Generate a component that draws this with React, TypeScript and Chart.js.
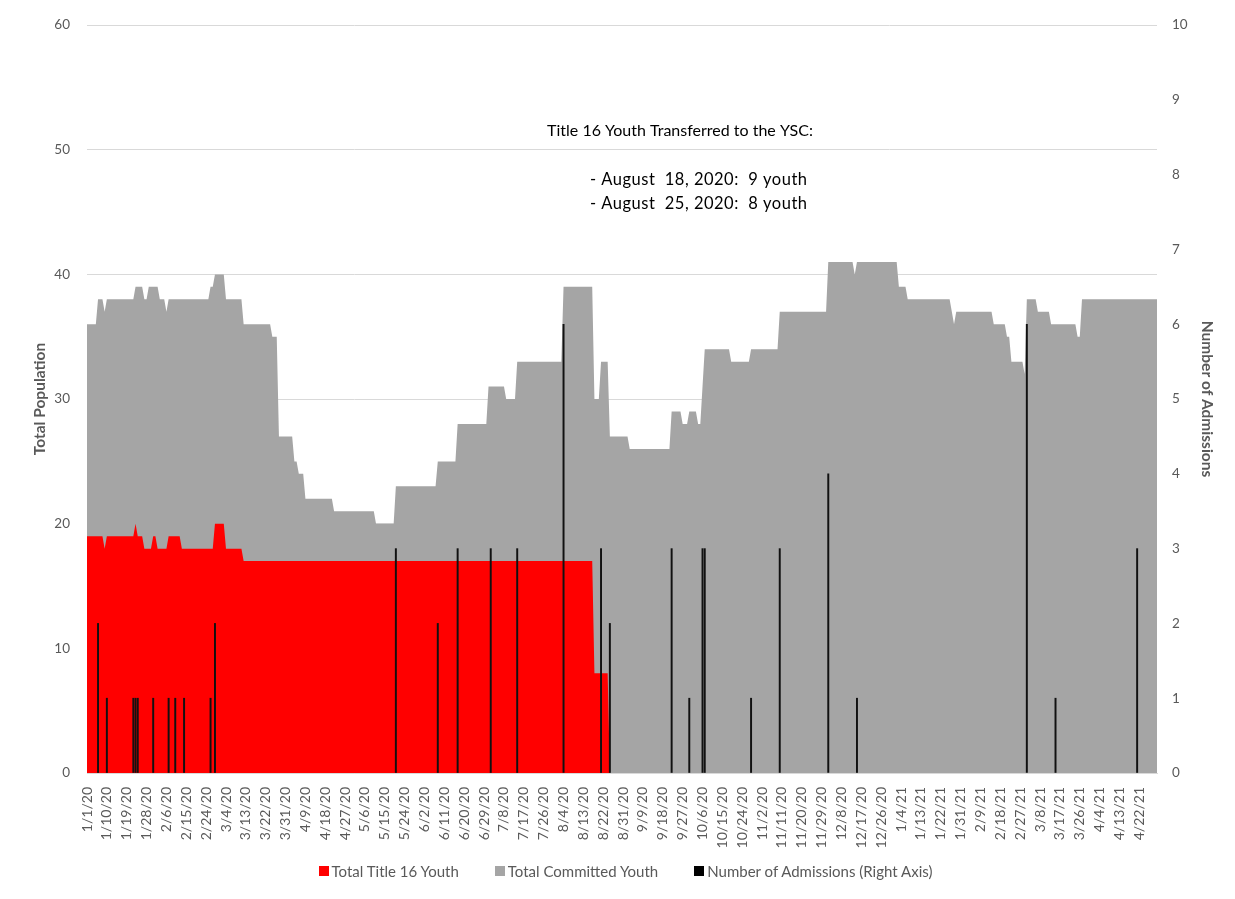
import React, { useEffect, useRef } from 'react';
import { Chart, registerables } from 'chart.js';

Chart.register(...registerables);

// ---- Data ----
const DAY_COUNT = 486; // 1/1/20 .. 4/30/21, one category per day
const LABEL_EVERY = 9;

// Daily step values as [value, number of days]
const title16Runs: [number, number][] = [
  [19, 8], [18, 1], [19, 13], [20, 1], [19, 3], [18, 4], [19, 2], [18, 5], [19, 6],
  [18, 15], [20, 5], [18, 8], [17, 159], [8, 7], [0, 249],
];

const committedRuns: [number, number][] = [
  [36, 5], [38, 3], [37, 1], [38, 13], [39, 4], [38, 2], [39, 5], [38, 3], [37, 1],
  [38, 19], [39, 2], [40, 5], [38, 8], [36, 13], [35, 3], [27, 7], [25, 2], [24, 3],
  [22, 13], [21, 19], [20, 9], [23, 19], [25, 9], [28, 14], [31, 8], [30, 5], [33, 21],
  [39, 14], [30, 3], [33, 4], [27, 9], [26, 19], [29, 5], [28, 3], [29, 4], [28, 2],
  [31, 1], [34, 12], [33, 9], [34, 13], [37, 22], [41, 12], [40, 1], [41, 19], [39, 4],
  [38, 20], [37, 1], [36, 1], [37, 17], [36, 6], [35, 2], [33, 6], [32, 1], [38, 5],
  [37, 6], [36, 12], [35, 2], [38, 35],
];

const admissionDates = [
  '1/6/20', '1/10/20', '1/22/20', '1/23/20', '1/24/20', '1/31/20', '2/7/20', '2/10/20',
  '2/14/20', '2/26/20', '2/28/20', '5/20/20', '6/8/20', '6/17/20', '7/2/20', '7/14/20',
  '8/4/20', '8/21/20', '8/25/20', '9/22/20', '9/30/20', '10/6/20', '10/7/20', '10/28/20',
  '11/10/20', '12/2/20', '12/15/20', '3/2/21', '3/15/21', '4/21/21',
];
const admissionCounts = [
  2, 1, 1, 1, 1, 1, 1, 1,
  1, 1, 2, 3, 2, 3, 3, 3,
  6, 3, 2, 3, 1, 3, 3, 1,
  3, 4, 1, 6, 1, 3,
];

const seriesNames = ['Total Title 16 Youth', 'Total Committed Youth', 'Number of Admissions (Right Axis)'];
const seriesColors = ['#ff0000', '#a5a5a5', '#000000'];
const noteLines = ['Title 16 Youth Transferred to the YSC:', '- August  18, 2020:  9 youth', '- August  25, 2020:  8 youth'];

const FONT = 'Lato, "Open Sans", sans-serif';
const TEXT_COLOR = '#595959';

function makeLabels(): string[] {
  const out: string[] = [];
  for (let i = 0; i < DAY_COUNT; i++) {
    const d = new Date(Date.UTC(2020, 0, 1 + i));
    out.push(`${d.getUTCMonth() + 1}/${d.getUTCDate()}/${String(d.getUTCFullYear()).slice(2)}`);
  }
  return out;
}

function expandRuns(runs: [number, number][]): number[] {
  const out: number[] = [];
  runs.forEach(([v, n]) => {
    for (let k = 0; k < n; k++) out.push(v);
  });
  return out;
}

const notePlugin = {
  id: 'notePlugin',
  afterDatasetsDraw(chart: any) {
    const ctx = chart.ctx;
    ctx.save();
    ctx.fillStyle = '#000000';
    ctx.font = `16px ${FONT}`;
    ctx.textBaseline = 'middle';
    ctx.textAlign = 'center';
    ctx.fillText(noteLines[0], 680, 131);
    ctx.font = `16.5px ${FONT}`;
    ctx.textAlign = 'left';
    (ctx as any).letterSpacing = '0.5px';
    ctx.fillText(noteLines[1], 590, 180);
    ctx.fillText(noteLines[2], 590, 204);
    ctx.restore();
  },
};

export default function App() {
  const canvasRef = useRef<HTMLCanvasElement | null>(null);

  useEffect(() => {
    const labels = makeLabels();
    const title16 = expandRuns(title16Runs);
    const committed = expandRuns(committedRuns);
    const admissions: (number | null)[] = labels.map(() => null);
    admissionDates.forEach((ds, i) => {
      const idx = labels.indexOf(ds);
      if (idx >= 0) admissions[idx] = admissionCounts[i];
    });

    const xTickFont = { family: FONT, size: 14 };
    const yTickFont = { family: FONT, size: 13.5 };
    const titleFont = { family: FONT, size: 15.5, weight: 'bold' };
    const chart = new Chart(canvasRef.current as HTMLCanvasElement, {
      type: 'line',
      data: {
        labels,
        datasets: [
          {
            type: 'line',
            label: seriesNames[0],
            data: title16,
            backgroundColor: seriesColors[0],
            borderColor: 'rgba(0,0,0,0)',
            borderWidth: 0,
            pointRadius: 0,
            fill: 'origin',
            tension: 0,
            yAxisID: 'y',
            order: 1,
          },
          {
            type: 'line',
            label: seriesNames[1],
            data: committed,
            backgroundColor: seriesColors[1],
            borderColor: 'rgba(0,0,0,0)',
            borderWidth: 0,
            pointRadius: 0,
            fill: 'origin',
            tension: 0,
            yAxisID: 'y',
            order: 2,
          },
          {
            type: 'bar',
            label: seriesNames[2],
            data: admissions,
            backgroundColor: '#111111',
            barThickness: 1.3,
            yAxisID: 'y1',
            order: 0,
          },
        ] as any,
      },
      options: {
        animation: false,
        responsive: false,
        events: [],
        layout: { padding: { left: 27, right: 15, top: 23, bottom: 46 } },
        plugins: {
          legend: { display: false },
          tooltip: { enabled: false },
        },
        scales: {
          x: {
            type: 'category',
            offset: false,
            grid: { display: false, offset: false },
            border: { display: true, color: '#d9d9d9' },
            ticks: {
              autoSkip: false,
              maxRotation: 90,
              minRotation: 90,
              padding: 6,
              color: TEXT_COLOR,
              font: xTickFont,
              callback: (_v: any, i: number) => (i % LABEL_EVERY === 0 ? labels[i] : ''),
            },
            afterFit: (s: any) => {
              s.height = 80;
            },
          },
          y: {
            position: 'left',
            min: 0,
            max: 60,
            ticks: { stepSize: 10, padding: 17, color: TEXT_COLOR, font: yTickFont },
            grid: { color: '#d9d9d9', drawTicks: false },
            border: { display: false },
            title: {
              display: true,
              text: 'Total Population',
              color: TEXT_COLOR,
              font: titleFont,
              padding: { top: 4, bottom: 4 },
            },
            afterFit: (s: any) => {
              s.width = 60;
            },
          },
          y1: {
            position: 'right',
            min: 0,
            max: 10,
            ticks: { stepSize: 1, padding: 15, color: TEXT_COLOR, font: yTickFont },
            grid: { drawOnChartArea: false, drawTicks: false },
            border: { display: false },
            title: {
              display: true,
              text: 'Number of Admissions',
              color: TEXT_COLOR,
              font: titleFont,
              padding: { top: 4, bottom: 4 },
            },
            afterFit: (s: any) => {
              s.width = 63;
            },
          },
        },
      } as any,
      plugins: [notePlugin],
    });
    return () => chart.destroy();
  }, []);

  return (
    <div style={{ position: 'absolute', left: 0, top: 0, width: 1235, height: 899, background: '#ffffff' }}>
      <canvas ref={canvasRef} width={1235} height={899} style={{ display: 'block' }} />
      <div
        style={{
          position: 'absolute',
          left: 0,
          top: 862,
          width: 1235,
          display: 'flex',
          justifyContent: 'center',
          gap: 36,
          fontFamily: FONT,
          fontSize: 15,
          color: TEXT_COLOR,
          paddingLeft: 16,
          boxSizing: 'border-box',
        }}
      >
        {seriesNames.map((name, i) => (
          <div key={name} style={{ display: 'flex', alignItems: 'center', gap: 3 }}>
            <span style={{ display: 'inline-block', width: 10, height: 10, background: seriesColors[i] }} />
            <span>{name}</span>
          </div>
        ))}
      </div>
    </div>
  );
}
